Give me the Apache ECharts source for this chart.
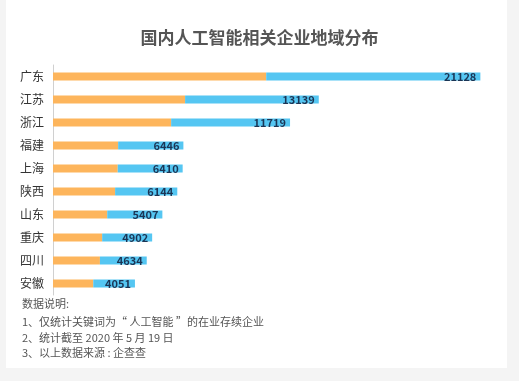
<!DOCTYPE html>
<html>
<head>
<meta charset="utf-8">
<script src="https://cdn.jsdelivr.net/npm/echarts@6/dist/echarts.min.js"></script>
<style>
html,body{margin:0;padding:0;background:#f4f4f4;}
#c{width:519px;height:381px;}
</style>
</head>
<body>
<div id="c"></div>
<script>
const categories = ['广东','江苏','浙江','福建','上海','陕西','山东','重庆','四川','安徽'];
const totals = [21128, 13139, 11719, 6446, 6410, 6144, 5407, 4902, 4634, 4051];
const orangePart = [10540, 6530, 5840, 3220, 3200, 3070, 2680, 2430, 2320, 1990];
const bluePart = [10588, 6609, 5879, 3226, 3210, 3074, 2727, 2472, 2314, 2061];
const titleText = '国内人工智能相关企业地域分布';
const notes = ['数据说明:', '1、仅统计关键词为“ 人工智能 ”的在业存续企业', '2、统计截至 2020 年 5 月 19 日', '3、以上数据来源 : 企查查'];
const noteTops = [298, 316, 332, 347];

const FONT = '"Noto Sans CJK SC", "Noto Sans", sans-serif';
const chart = echarts.init(document.getElementById('c'), null, {renderer: 'canvas'});
const noteGraphics = notes.map((t, i) => ({
  type: 'text',
  left: 22,
  top: noteTops[i],
  z: 10,
  style: {text: t, fill: '#555', font: '11px ' + FONT}
}));
chart.setOption({
  backgroundColor: '#f4f4f4',
  animation: false,
  title: {
    text: titleText,
    left: 'center',
    top: 24,
    textStyle: {fontFamily: FONT, fontSize: 17, fontWeight: 'bold', color: '#555'}
  },
  grid: {left: 53, right: 21, top: 65, height: 230, containLabel: false},
  xAxis: {
    type: 'value', min: 0, max: 22000, show: false
  },
  yAxis: {
    type: 'category',
    data: categories,
    inverse: true,
    axisTick: {show: false},
    axisLine: {show: true, lineStyle: {color: '#d0d0d0', width: 1}},
    axisLabel: {color: '#333', fontSize: 12, fontFamily: FONT, margin: 9}
  },
  graphic: [
    {type: 'rect', shape: {x: 6, y: 0, width: 501, height: 368}, style: {fill: '#ffffff'}, z: -10, silent: true}
  ].concat(noteGraphics),
  series: [
    {
      type: 'bar', stack: 'a', data: orangePart, barWidth: 8,
      itemStyle: {color: '#FDB55C'}
    },
    {
      type: 'bar', stack: 'a', data: bluePart, barWidth: 8,
      itemStyle: {color: '#55C6F2'},
      label: {
        show: true, position: 'insideRight', distance: 4,
        formatter: p => String(totals[p.dataIndex]),
        color: '#1b3555', fontSize: 11, fontFamily: FONT, fontWeight: 'bold'
      }
    }
  ]
});
</script>
</body>
</html>
